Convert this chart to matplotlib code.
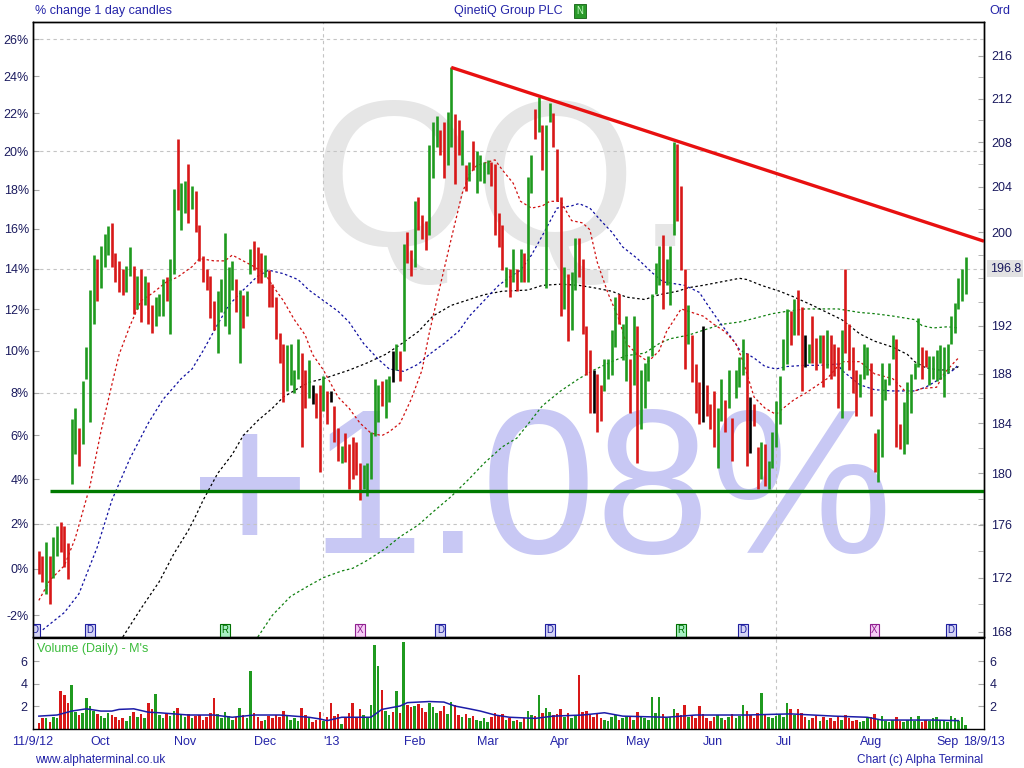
import matplotlib
matplotlib.use("Agg")
import matplotlib.pyplot as plt
from matplotlib import transforms
from matplotlib.ticker import FixedLocator, FixedFormatter, NullLocator, NullFormatter

plt.rcParams["font.family"] = ["Liberation Sans", "DejaVu Sans"]

# daily bars, pence, one per trading day from 11/9/12
highs = [
    174.0, 173.6, 174.7, 173.6, 175.1, 175.9, 176.2, 175.9, 174.6, 184.3,
    185.2, 183.6, 187.4, 190.2, 195.0, 198.0, 197.7, 198.8, 199.8, 200.5,
    200.8, 198.2, 197.5, 196.8, 197.1, 198.7, 197.1, 196.2, 196.8, 196.2,
    195.7, 193.7, 194.4, 194.7, 195.9, 196.1, 197.7, 203.8, 208.3, 204.3,
    204.5, 206.0, 204.1, 203.6, 200.6, 197.9, 196.8, 196.2, 194.1, 194.9,
    195.9, 199.9, 197.0, 197.5, 195.9, 195.0, 194.6, 194.9, 198.5, 199.2,
    198.7, 198.2, 198.0, 196.7, 195.5, 194.4, 191.4, 190.5, 190.4, 190.5,
    188.3, 190.9, 189.7, 188.3, 189.1, 187.1, 186.4, 187.1, 187.8, 186.6,
    186.6, 185.4, 183.6, 182.2, 183.2, 182.3, 182.9, 182.5, 180.8, 180.7,
    180.8, 183.3, 187.6, 187.1, 187.4, 187.6, 187.8, 189.9, 190.5, 189.9,
    199.0, 200.0, 198.4, 202.7, 203.1, 201.5, 201.0, 207.7, 209.8, 210.4,
    209.1, 209.8, 210.8, 214.9, 210.6, 210.0, 209.1, 205.9, 206.2, 208.1,
    207.2, 206.8, 206.2, 206.4, 206.2, 206.0, 201.7, 200.6, 197.0, 196.8,
    198.5, 196.8, 198.5, 198.2, 204.9, 206.8, 211.0, 212.1, 209.6, 209.6,
    211.6, 210.7, 207.4, 203.1, 197.0, 196.4, 196.5, 199.5, 199.5, 197.7,
    192.0, 190.0, 188.3, 188.0, 187.1, 189.2, 189.2, 191.6, 194.4, 194.7,
    192.1, 192.8, 189.2, 192.8, 192.0, 188.3, 188.9, 189.5, 194.7, 197.3,
    198.8, 199.7, 197.7, 198.8, 208.0, 207.8, 204.1, 196.8, 193.7, 191.2,
    188.8, 187.3, 192.0, 187.1, 185.5, 186.6, 185.2, 187.6, 185.9, 188.3,
    184.4, 188.3, 189.4, 190.9, 189.7, 186.1, 185.5, 182.1, 182.5, 182.3,
    181.0, 183.3, 185.8, 187.8, 190.9, 193.4, 193.2, 194.2, 195.0, 193.6,
    191.2, 190.5, 192.8, 191.0, 191.2, 191.2, 191.6, 191.2, 190.5, 190.2,
    191.6, 196.8, 192.1, 190.2, 188.3, 188.0, 190.5, 190.2, 188.9, 183.2,
    183.5, 188.9, 187.6, 188.9, 191.2, 190.9, 183.9, 185.7, 187.3, 188.0,
    188.9, 192.6, 190.2, 190.0, 189.5, 189.5, 190.0, 190.4, 190.2, 190.5,
    192.8, 193.9, 196.0, 196.8, 197.8,
]
lows = [
    172.3, 171.7, 170.8, 170.0, 172.0, 173.6, 173.9, 172.8, 171.9, 179.2,
    181.5, 180.6, 182.3, 187.6, 184.1, 192.1, 194.1, 195.2, 197.0, 198.0,
    197.0, 195.7, 194.8, 194.6, 194.8, 196.2, 193.0, 193.4, 192.3, 193.7,
    192.1, 191.4, 192.0, 192.8, 192.8, 194.1, 191.3, 196.4, 201.9, 200.2,
    201.7, 200.8, 202.0, 200.0, 197.5, 195.7, 195.0, 192.6, 191.6, 189.7,
    193.1, 192.0, 191.3, 195.0, 193.1, 188.9, 191.8, 192.8, 196.4, 196.7,
    195.6, 195.6, 196.1, 193.6, 193.6, 190.9, 188.9, 185.7, 186.6, 187.1,
    186.4, 187.6, 182.1, 185.2, 186.0, 185.5, 184.4, 180.1, 185.0, 183.9,
    185.7, 182.5, 181.0, 180.8, 180.9, 178.8, 179.6, 179.9, 177.9, 178.8,
    178.2, 179.6, 183.0, 184.1, 185.4, 184.4, 185.7, 187.3, 188.3, 187.4,
    189.9, 197.3, 196.2, 197.0, 200.2, 199.4, 198.4, 199.7, 204.8, 207.6,
    206.8, 204.8, 205.9, 207.6, 204.2, 206.8, 205.9, 203.6, 204.5, 205.5,
    203.4, 204.5, 204.3, 205.1, 204.1, 199.7, 198.7, 196.7, 195.3, 194.4,
    195.7, 194.9, 195.7, 195.7, 195.7, 203.4, 208.3, 208.9, 205.5, 195.2,
    209.8, 207.6, 202.7, 192.8, 193.4, 190.7, 191.6, 195.0, 196.1, 191.3,
    187.9, 184.8, 184.8, 183.3, 184.2, 186.6, 187.6, 187.9, 190.2, 192.1,
    189.1, 187.4, 184.8, 187.1, 180.8, 183.5, 185.2, 187.4, 189.5, 194.7,
    195.4, 193.4, 195.4, 193.7, 199.7, 201.0, 196.7, 188.4, 190.5, 187.3,
    184.8, 183.9, 184.1, 184.6, 183.5, 182.1, 180.4, 184.2, 183.3, 185.2,
    181.0, 186.0, 186.9, 187.9, 180.6, 181.6, 183.8, 178.8, 179.6, 179.0,
    178.8, 180.4, 182.1, 183.9, 188.3, 188.8, 190.4, 191.2, 191.2, 186.6,
    188.6, 188.9, 188.9, 188.3, 188.9, 186.9, 188.5, 187.6, 187.8, 185.2,
    184.4, 189.7, 188.3, 186.4, 184.6, 186.1, 187.6, 187.9, 184.6, 180.1,
    179.3, 181.3, 185.9, 187.1, 189.2, 182.1, 181.9, 181.5, 182.3, 184.8,
    187.6, 188.6, 187.6, 188.6, 187.1, 187.6, 187.4, 187.6, 186.1, 188.1,
    190.5, 191.4, 193.4, 194.1, 194.7,
]
# g = up day, r = down day, k = black bar
bar_colours = (
    "rrgrggrrrg" "grggggrggg" "rrrrggrgrg" "rrgggrggrg" "grgrrrrrrg"
    "ggggrgrggr" "rrgrrrrrgg" "ggrrgkrrgr" "krrgrrrrrg" "ggggrggkgr"
    "grrgrrrggg" "rrggrrgrgr" "ggggrrrrgr" "grgrggrgrg" "grrrgrggrr"
    "rrkrrggggr" "ggrgrggggg" "grgggrrrgr" "rrkrrrggrg" "rgggrkrrgr"
    "ggggggrgrr" "kgrrgrgrrr" "grrrrgggrr" "gggggrrggg" "ggrrgggggg"
    "ggggg"
)
# daily volume, millions of shares
volumes = [
    0.5, 0.9, 0.9, 0.6, 1.0, 0.9, 3.3, 3.0, 2.3, 3.9,
    1.5, 1.2, 1.4, 2.7, 2.0, 1.6, 1.3, 1.1, 0.9, 1.4,
    1.2, 1.0, 0.8, 0.9, 0.7, 1.1, 1.5, 1.0, 1.3, 0.9,
    2.3, 1.7, 3.1, 1.2, 0.9, 1.4, 1.1, 1.6, 1.8, 1.2,
    1.0, 1.3, 0.9, 1.1, 1.2, 0.8, 1.0, 1.4, 2.7, 1.3,
    0.9, 1.5, 1.1, 0.8, 1.0, 1.8, 1.2, 0.9, 5.1, 1.4,
    1.0, 0.7, 0.8, 1.1, 0.9, 1.2, 1.0, 1.6, 1.1, 0.8,
    0.9, 0.7, 1.8, 1.2, 0.9, 0.6, 0.8, 1.5, 0.7, 1.0,
    2.3, 1.1, 1.3, 0.4, 0.9, 1.4, 2.3, 1.0, 1.7, 1.2,
    0.9, 2.1, 7.4, 5.6, 3.4, 1.6, 1.2, 1.5, 3.3, 1.4,
    7.7, 2.1, 1.9, 2.0, 2.2, 1.8, 1.5, 2.3, 1.9, 1.4,
    1.6, 2.0, 1.3, 2.4, 2.1, 1.2, 1.0, 1.3, 0.9, 1.1,
    0.8, 0.7, 0.9, 0.6, 1.0, 1.4, 1.2, 1.3, 0.8, 0.9,
    0.7, 0.8, 0.6, 0.9, 1.6, 1.2, 1.1, 3.0, 1.4, 1.8,
    1.5, 1.2, 1.3, 1.7, 1.0, 1.4, 0.9, 1.2, 4.8, 1.5,
    1.6, 1.2, 1.0, 1.3, 0.9, 0.8, 0.7, 1.0, 1.2, 0.8,
    0.9, 1.1, 1.0, 0.8, 1.5, 1.1, 0.9, 0.8, 2.8, 1.4,
    2.8, 1.3, 0.9, 1.0, 1.7, 1.4, 1.2, 2.1, 1.0, 1.1,
    0.9, 2.0, 1.3, 0.9, 0.7, 1.0, 1.2, 0.9, 0.8, 1.0,
    1.3, 0.9, 1.1, 2.1, 1.6, 1.2, 0.9, 1.4, 3.2, 1.2,
    1.0, 0.9, 1.1, 1.3, 1.0, 2.3, 1.7, 1.2, 1.7, 1.4,
    1.0, 0.8, 0.9, 1.1, 0.7, 1.0, 0.8, 0.9, 0.7, 1.0,
    0.8, 1.2, 0.9, 0.7, 0.8, 0.6, 0.7, 0.9, 1.0, 1.3,
    0.8, 1.1, 0.7, 0.6, 0.8, 1.0, 0.7, 0.6, 0.8, 1.0,
    0.7, 1.1, 0.6, 0.8, 0.7, 0.9, 1.0, 0.8, 0.7, 0.6,
    1.1, 0.9, 0.7, 1.0, 0.3,
]

base_price = 172.65  # first close = 0%
last_price = 196.8

# moving averages as drawn on the chart: (day index, price)
ma_red_days = [0, 3, 7, 10, 14, 17, 20, 22, 25, 28, 31, 35, 38, 42, 44, 48, 51, 53, 56, 59,
               62, 64, 67, 70, 73, 75, 78, 82, 85, 88, 91, 94, 96, 99, 102, 105, 107, 110, 113, 116,
               118, 120, 125, 127, 130, 132, 135, 138, 140, 143, 146, 149, 151, 153, 156, 159, 161, 164, 167, 170,
               172, 176, 179, 182, 185, 188, 191, 193, 196, 199, 202, 204, 207, 210, 212, 216, 220, 225, 229, 234,
               238, 242, 246, 248, 251, 252]
ma_red = [170.3, 171.8, 172.9, 175.0, 179.0, 183.3, 187.1, 189.6, 192.0, 194.1, 194.7, 195.7, 196.1, 197.0, 197.7, 197.5, 197.5, 198.0, 197.5, 197.0,
          196.4, 195.4, 194.1, 192.5, 191.2, 189.6, 188.3, 186.1, 185.2, 184.0, 183.2, 183.0, 183.3, 184.0, 185.9, 188.3, 191.4, 195.4, 199.4, 203.4,
          205.1, 205.9, 206.4, 205.5, 204.3, 202.7, 202.1, 202.3, 202.7, 202.7, 201.0, 200.8, 200.2, 197.4, 194.7, 192.5, 190.5, 189.6, 189.0, 189.9,
          191.5, 193.4, 193.1, 192.8, 192.1, 191.5, 190.5, 189.0, 186.1, 185.2, 184.7, 185.2, 185.9, 186.4, 186.8, 187.6, 189.0, 189.0, 188.0, 187.6,
          186.4, 186.8, 186.9, 188.0, 189.0, 189.3]
ma_blue_days = [0, 7, 11, 16, 20, 25, 30, 34, 39, 42, 45, 49, 52, 56, 60, 63, 67, 71, 74, 78,
                82, 85, 89, 93, 96, 100, 104, 107, 111, 115, 118, 122, 126, 129, 132, 135, 138, 142, 146, 148,
                151, 154, 157, 160, 164, 168, 171, 175, 177, 181, 184, 187, 190, 192, 196, 199, 202, 205, 210, 214,
                219, 220, 225, 229, 234, 240, 243, 247, 251, 252]
ma_blue = [167.9, 169.4, 170.8, 174.3, 177.9, 181.2, 184.0, 185.9, 187.6, 188.4, 189.9, 192.1, 193.7, 195.0, 196.2, 196.7, 196.4, 195.9, 195.0, 194.1,
           193.2, 192.3, 190.5, 189.2, 188.4, 188.2, 188.8, 189.6, 190.5, 191.5, 192.8, 194.1, 195.4, 196.1, 196.7, 198.0, 199.7, 202.1, 202.3, 202.5,
           202.1, 201.0, 200.0, 198.7, 197.7, 196.5, 195.7, 195.5, 195.4, 194.8, 193.4, 192.1, 190.9, 190.0, 189.3, 188.6, 188.4, 188.6, 188.7, 188.7,
           188.8, 188.3, 187.1, 186.7, 186.6, 186.6, 186.9, 187.6, 188.4, 188.8]
ma_black_days = [23, 28, 33, 37, 41, 43, 45, 49, 53, 56, 60, 64, 67, 71, 74, 78, 82, 85, 90, 95,
                 99, 104, 108, 113, 118, 122, 127, 134, 138, 143, 148, 152, 157, 161, 166, 170, 175, 178, 182, 187,
                 192, 194, 198, 203, 207, 212, 216, 220, 225, 229, 234, 238, 240, 243, 247, 251, 252]
ma_black = [167.6, 169.7, 171.7, 173.8, 175.6, 176.7, 177.9, 180.0, 181.5, 183.0, 184.2, 185.2, 186.1, 186.8, 187.3, 187.6, 188.0, 188.3, 188.9, 189.6,
            190.4, 191.5, 192.8, 193.7, 194.2, 194.6, 194.9, 195.0, 195.4, 195.5, 195.4, 195.2, 194.9, 194.4, 194.2, 194.6, 194.9, 195.2, 195.4, 195.7,
            196.0, 195.9, 195.4, 194.9, 194.4, 193.7, 193.1, 192.5, 191.3, 190.7, 190.2, 189.6, 189.0, 188.5, 188.3, 188.4, 188.6]
ma_green_days = [60, 64, 69, 74, 78, 83, 86, 90, 95, 99, 104, 108, 113, 118, 122, 127, 131, 134, 138, 143,
                 148, 152, 157, 161, 166, 170, 173, 178, 182, 187, 192, 196, 201, 205, 210, 214, 219, 225, 229, 234,
                 240, 242, 245, 249, 252]
ma_green = [167.6, 169.2, 170.6, 171.4, 172.0, 172.5, 172.7, 173.3, 174.2, 175.1, 176.0, 177.0, 178.2, 179.6, 180.8, 182.1, 182.8, 183.9, 185.4, 186.6,
            187.6, 188.3, 189.0, 189.5, 189.7, 190.5, 190.9, 191.2, 191.6, 192.1, 192.3, 192.6, 193.0, 193.2, 193.4, 193.4, 193.4, 193.1, 193.0, 192.8,
            192.5, 192.0, 191.8, 191.9, 191.8]
vol_ma_days = [0, 5, 9, 13, 17, 20, 22, 26, 30, 33, 41, 48, 53, 59, 66, 74, 77, 79, 83, 91,
               94, 99, 101, 107, 111, 114, 118, 121, 125, 129, 136, 141, 149, 155, 160, 172, 180, 187, 194, 206,
               218, 227, 231, 245, 252]
vol_ma = [1.1, 1.2, 1.55, 1.75, 1.55, 1.55, 1.7, 1.75, 1.45, 1.4, 1.2, 1.2, 1.0, 1.2, 1.2, 1.0, 0.85, 0.7, 1.0, 1.0,
          1.7, 2.0, 2.3, 2.4, 2.35, 2.0, 1.75, 1.55, 1.2, 1.0, 0.9, 1.1, 1.2, 1.4, 1.1, 1.0, 1.2, 1.2, 1.2, 1.3,
          1.1, 1.0, 0.75, 0.75, 0.7]

# hand drawn lines
trend_days = [113, 259]
trend_prices = [214.9, 199.2]
support_days = [3, 259]
support_price = 178.6

month_days = [14, 37, 59, 78, 100, 120, 140, 161, 182, 202, 225, 246]
month_labels = ["Oct", "Nov", "Dec", "'13", "Feb", "Mar", "Apr", "May", "Jun", "Jul", "Aug", "Sep"]
first_label, last_label = "11/9/12", "18/9/13"
grid_days = [78, 202]

event_days = [-1, 14, 51, 88, 110, 140, 176, 193, 229, 250]
event_types = ["D", "D", "R", "X", "D", "D", "R", "D", "X", "D"]

pct_ticks = list(range(-2, 27, 2))
pct_grid = [2, 8, 14, 20, 26]
price_ticks = [168, 172, 176, 180, 184, 188, 192, 200, 204, 208, 212, 216]
price_minor = list(range(170, 218, 2))
vol_ticks = [2, 4, 6]

NAVY = "#1a1a5e"
BLUE = "#2424a8"
COLOURS = {"g": "#1f9a1f", "r": "#d81818", "k": "#000000"}
GRID = "#c4c4c4"

x_lo, x_hi = -1.6, 259
p_lo, p_hi = 167.6, 219.2

fig = plt.figure(figsize=(10.24, 7.68), dpi=100)
ax = fig.add_axes([33 / 1024, 1 - 637 / 768, 951 / 1024, 615 / 768])
axv = fig.add_axes([33 / 1024, 1 - 728.5 / 768, 951 / 1024, 90.5 / 768])

days = list(range(len(highs)))
cols = [COLOURS[c] for c in bar_colours]

# price panel
ax.set_yscale("log")
ax.set_xlim(x_lo, x_hi)
ax.set_ylim(p_lo, p_hi)

pct_pos = [base_price * (1 + k / 100) for k in pct_ticks]
ax.yaxis.set_major_locator(FixedLocator(pct_pos))
ax.yaxis.set_major_formatter(FixedFormatter([f"{k}%" for k in pct_ticks]))
ax.yaxis.set_minor_locator(NullLocator())
ax.yaxis.set_minor_formatter(NullFormatter())
ax.set_xticks([])
ax.tick_params(axis="y", direction="in", length=4, color="#a8a8a8",
               labelsize=9, labelcolor=NAVY, pad=3)

axr = ax.twinx()
axr.set_yscale("log")
axr.set_ylim(p_lo, p_hi)
axr.yaxis.set_major_locator(FixedLocator(price_ticks))
axr.yaxis.set_major_formatter(FixedFormatter([str(p) for p in price_ticks]))
axr.yaxis.set_minor_locator(FixedLocator(price_minor))
axr.yaxis.set_minor_formatter(NullFormatter())
axr.tick_params(axis="y", which="both", direction="in", length=4, color="#a8a8a8",
                labelsize=9, labelcolor=NAVY, pad=5)

for k in pct_grid:
    ax.axhline(base_price * (1 + k / 100), color=GRID, lw=0.8,
               ls=(0, (3, 3)), zorder=1)
for d in grid_days:
    ax.axvline(d, color=GRID, lw=0.8, ls=(0, (3, 3)), zorder=1)
    axv.axvline(d, color=GRID, lw=0.8, ls=(0, (3, 3)), zorder=1)

# watermarks
ax.text(312 / 1024, 1 - 246 / 768, "QQ.", transform=fig.transFigure,
        fontsize=150, color="#e6e6e6", ha="left", va="baseline", zorder=0.5)
ax.text(190 / 1024, 1 - 553 / 768, "+1.08%", transform=fig.transFigure,
        fontsize=148, color="#c8c8f4", ha="left", va="baseline", zorder=0.6)

dots = (0, (2, 2))
ax.plot(ma_green_days, ma_green, color="#108010", lw=0.9, ls=dots, zorder=2)
ax.plot(ma_black_days, ma_black, color="#000000", lw=0.9, ls=dots, zorder=2)
ax.plot(ma_blue_days, ma_blue, color="#1010a0", lw=0.9, ls=dots, zorder=2)
ax.plot(ma_red_days, ma_red, color="#d01010", lw=0.9, ls=dots, zorder=2)

ax.vlines(days, lows, highs, colors=cols, lw=1.9, zorder=3)

ax.plot(trend_days, trend_prices, color="#e81010", lw=2.4, zorder=4,
        solid_capstyle="butt")
ax.plot(support_days, [support_price] * 2, color="#007a00", lw=2.4, zorder=4,
        solid_capstyle="butt")

event_style = {
    "D": ("#2020a0", "#d4d4f4"),
    "R": ("#007000", "#a8f0c4"),
    "X": ("#902090", "#f6cdf6"),
}
ev_trans = transforms.blended_transform_factory(ax.transData, ax.transAxes)
for d, t in zip(event_days, event_types):
    fg, bg = event_style[t]
    ax.text(d, 0.011, t, transform=ev_trans, fontsize=7, color=fg, ha="center",
            va="center", zorder=5, clip_on=True,
            bbox=dict(boxstyle="square,pad=0.15", fc=bg, ec=fg, lw=0.8))

# volume panel
axv.set_xlim(x_lo, x_hi)
axv.set_ylim(0, 8.05)
axv.bar(days, volumes, width=0.7, color=[COLOURS["g"] if c == "g" else COLOURS["r"]
                                         for c in bar_colours], zorder=2)
axv.plot(vol_ma_days, vol_ma, color="#1c1ca8", lw=1.1, zorder=3)
axv.set_yticks(vol_ticks)
axv.set_yticklabels([str(v) for v in vol_ticks])
axv.set_xticks([])
axv.tick_params(axis="y", direction="in", length=4, color="#a8a8a8",
                labelsize=9, labelcolor=NAVY, left=True, right=True,
                labelleft=True, labelright=True, pad=4)
axv.text(0.004, 0.88, "Volume (Daily) - M's", transform=axv.transAxes,
         fontsize=9, color="#3cbc3c", ha="left", va="center")

for a in (ax, axr, axv):
    for s in a.spines.values():
        s.set_color("black")
        s.set_linewidth(1.0)

# date labels under the volume panel
lab_trans = transforms.blended_transform_factory(axv.transData, fig.transFigure)
lab_y = 1 - 742 / 768
for d, lab in zip(month_days, month_labels):
    axv.text(d, lab_y, lab, transform=lab_trans, fontsize=9, color=BLUE,
             ha="left", va="center")
axv.text(x_lo, lab_y, first_label, transform=lab_trans, fontsize=9, color=BLUE,
         ha="center", va="center")
axv.text(x_hi, lab_y, last_label, transform=lab_trans, fontsize=9, color=BLUE,
         ha="center", va="center")

# header and footer
fig.text(35 / 1024, 1 - 11 / 768, "% change 1 day candles", fontsize=9,
         color=BLUE, ha="left", va="center")
fig.text(508 / 1024, 1 - 11 / 768, "QinetiQ Group PLC", fontsize=9,
         color=BLUE, ha="center", va="center")
fig.text(580 / 1024, 1 - 11 / 768, "N", fontsize=7, color="#c8ffc8",
         ha="center", va="center",
         bbox=dict(boxstyle="square,pad=0.25", fc="#2a9a2a", ec="#106010", lw=0.6))
fig.text(1010 / 1024, 1 - 11 / 768, "Ord", fontsize=9, color=BLUE,
         ha="right", va="center")
axr.text(1.006, last_price, f"{last_price}", transform=transforms.blended_transform_factory(
    axr.transAxes, axr.transData), fontsize=9, color=NAVY, ha="left", va="center",
    bbox=dict(boxstyle="square,pad=0.2", fc="#e2e2e2", ec="none"))
fig.text(35 / 1024, 1 - 760 / 768, "www.alphaterminal.co.uk", fontsize=8.5,
         color=BLUE, ha="left", va="center")
fig.text(983 / 1024, 1 - 760 / 768, "Chart (c) Alpha Terminal", fontsize=8.5,
         color=BLUE, ha="right", va="center")

fig.savefig("out.png", dpi=100)
